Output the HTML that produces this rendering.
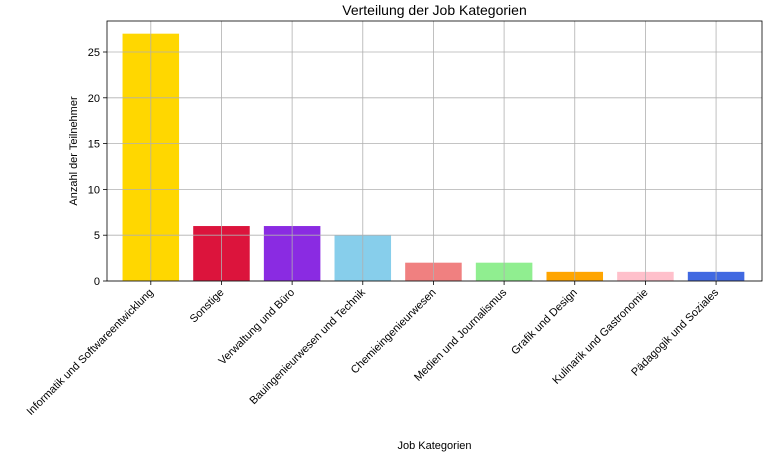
<!DOCTYPE html>
<html><head><meta charset="utf-8"><style>
body{margin:0;background:#fff;}
svg text{font-family:"Liberation Sans","DejaVu Sans",sans-serif;fill:#000;}
</style></head><body>
<svg id="c" width="768" height="455" xmlns="http://www.w3.org/2000/svg"></svg>
<script>
const categories=["Informatik und Softwareentwicklung","Sonstige","Verwaltung und Büro","Bauingenieurwesen und Technik","Chemieingenieurwesen","Medien und Journalismus","Grafik und Design","Kulinarik und Gastronomie","Pädagogik und Soziales"];
const values=[27,6,6,5,2,2,1,1,1];
const colors=["#ffd700","#dc143c","#8a2be2","#87ceeb","#f08080","#90ee90","#ffa500","#ffc0cb","#4169e1"];
const yTicks=[0,5,10,15,20,25];
const NS="http://www.w3.org/2000/svg";
const svg=document.getElementById('c');
const L=107,R=762,T=21,B=281;
const xmin=-0.62,xmax=8.65;
const x=i=>L+(i-xmin)/(xmax-xmin)*(R-L);
const y=v=>B-v*9.16;
function mk(tag,at,txt){const e=document.createElementNS(NS,tag);for(const k in at)e.setAttribute(k,at[k]);if(txt!==undefined)e.textContent=txt;svg.appendChild(e);return e;}
const bw=0.8*(R-L)/(xmax-xmin);
values.forEach((v,i)=>{
 const r=mk('rect',{x:x(i)-bw/2,y:y(v),width:bw,height:B-y(v),fill:colors[i]});
 
 
});
yTicks.forEach(t=>{
 const g=mk('line',{x1:L,x2:R,y1:y(t),y2:y(t),stroke:'#b0b0b0','stroke-width':0.8});
 
 
 const tk=mk('line',{x1:L-4,x2:L,y1:y(t),y2:y(t),stroke:'#000','stroke-width':0.8});
 
 
 const tl=mk('text',{x:L-7,y:y(t)+4,'text-anchor':'end','font-size':11},String(t));
 
 
});
categories.forEach((c,i)=>{
 const g=mk('line',{x1:x(i),x2:x(i),y1:T,y2:B,stroke:'#b0b0b0','stroke-width':0.8});
 
 
 const tk=mk('line',{x1:x(i),x2:x(i),y1:B,y2:B+4,stroke:'#000','stroke-width':0.8});
 
 
 const tl=mk('text',{x:x(i)+3,y:B+12,'text-anchor':'end','font-size':11,transform:`rotate(-45 ${x(i)+3} ${B+12})`},c);
 
 
});
const fr=mk('rect',{x:L,y:T,width:R-L,height:B-T,fill:'none',stroke:'#000','stroke-width':0.8});


const ti=mk('text',{x:(L+R)/2,y:15,'text-anchor':'middle','font-size':14},'Verteilung der Job Kategorien');


const xt=mk('text',{x:(L+R)/2,y:449,'text-anchor':'middle','font-size':11},'Job Kategorien');


const yt=mk('text',{x:77,y:(T+B)/2,'text-anchor':'middle','font-size':11,transform:`rotate(-90 77 ${(T+B)/2})`},'Anzahl der Teilnehmer');


</script>
</body></html>
